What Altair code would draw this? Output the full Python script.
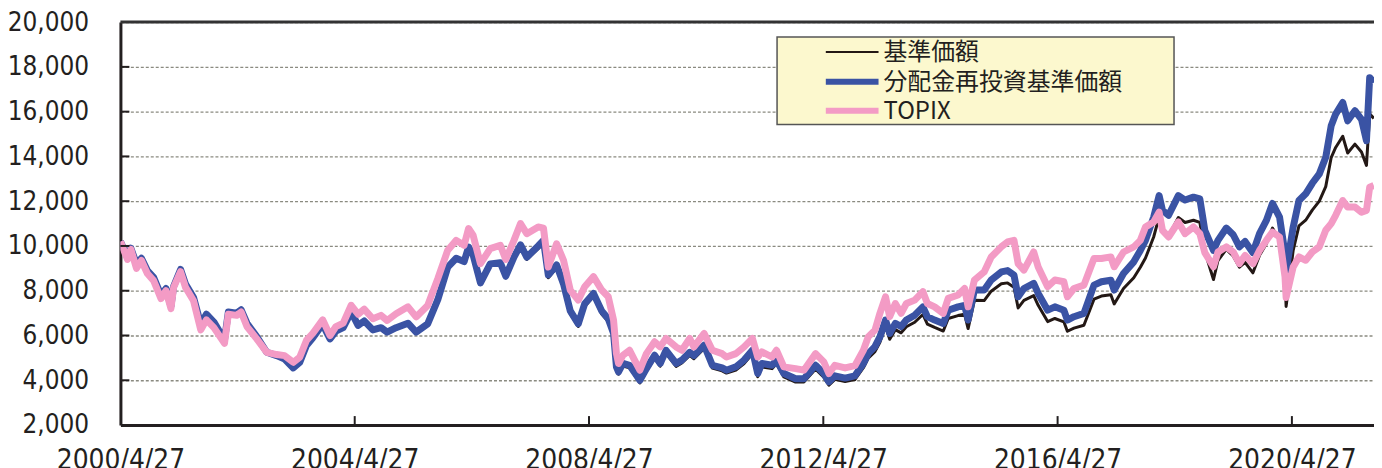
import altair as alt
import pandas as pd

# ---------------- data ----------------
dates = [
    "2000-04-27", "2000-06-10", "2000-07-01", "2000-08-05", "2000-09-05", "2000-10-12", "2000-11-20",
    "2001-01-05", "2001-02-05", "2001-03-08", "2001-03-25", "2001-05-07", "2001-06-07", "2001-07-27", "2001-09-10", "2001-10-15", "2001-12-01",
    "2002-02-05", "2002-03-01", "2002-04-22", "2002-05-20", "2002-06-25", "2002-08-25", "2002-10-27", "2002-12-27",
    "2003-02-15", "2003-04-10", "2003-05-20", "2003-07-01", "2003-08-10", "2003-10-10", "2003-11-25",
    "2004-01-01", "2004-02-15", "2004-04-05", "2004-05-18", "2004-06-25", "2004-08-18", "2004-10-08", "2004-11-15",
    "2005-01-10", "2005-03-25", "2005-05-15", "2005-07-26", "2005-09-27", "2005-11-28",
    "2006-01-20", "2006-03-10", "2006-04-07", "2006-05-05", "2006-06-20", "2006-08-20", "2006-10-22", "2006-11-25",
    "2007-01-15", "2007-02-25", "2007-04-05", "2007-06-15", "2007-07-18", "2007-08-17", "2007-10-08", "2007-11-20",
    "2008-01-01", "2008-02-20", "2008-03-31", "2008-05-25", "2008-07-15", "2008-08-25", "2008-09-27", "2008-10-15", "2008-10-28", "2008-11-25",
    "2009-01-05", "2009-02-05", "2009-03-10", "2009-04-20", "2009-06-10", "2009-07-15", "2009-08-20", "2009-10-22", "2009-11-27",
    "2010-01-15", "2010-02-10", "2010-04-15", "2010-06-05", "2010-08-05", "2010-09-01", "2010-10-30", "2010-12-20",
    "2011-02-10", "2011-03-15", "2011-04-10", "2011-06-12", "2011-07-10", "2011-08-25", "2011-11-06", "2011-12-28",
    "2012-03-10", "2012-04-30", "2012-06-01", "2012-07-08", "2012-09-10", "2012-11-10",
    "2013-01-02", "2013-02-01", "2013-03-15", "2013-04-15", "2013-05-20", "2013-06-15", "2013-07-20", "2013-08-25", "2013-09-27", "2013-11-18",
    "2014-01-08", "2014-02-05", "2014-03-22", "2014-05-15", "2014-06-15", "2014-08-15", "2014-09-25", "2014-10-17", "2014-11-25",
    "2015-01-25", "2015-03-10", "2015-05-12", "2015-06-20", "2015-07-30", "2015-08-25", "2015-09-30", "2015-11-30", "2015-12-28",
    "2016-02-25", "2016-04-10", "2016-06-05", "2016-06-27", "2016-08-07", "2016-10-08", "2016-12-10",
    "2017-01-25", "2017-03-25", "2017-04-15", "2017-06-12", "2017-08-15", "2017-09-25", "2017-10-27", "2017-12-17",
    "2018-01-20", "2018-02-10", "2018-03-20", "2018-05-20", "2018-07-01", "2018-08-22", "2018-10-01", "2018-11-01", "2018-12-25",
    "2019-01-22", "2019-03-15", "2019-04-27", "2019-06-05", "2019-07-10", "2019-08-28", "2019-10-08", "2019-11-20", "2019-12-28",
    "2020-02-10", "2020-03-15", "2020-03-22", "2020-05-05", "2020-06-10", "2020-07-22", "2020-09-01", "2020-10-15", "2020-11-24", "2020-12-28",
    "2021-01-25", "2021-03-10", "2021-04-10", "2021-05-25", "2021-07-05", "2021-08-05", "2021-08-25", "2021-09-20",
]

# 基準価額 (black)
nav = [
    10200, 9500, 9900, 9200, 9450, 8900, 8600,
    7800, 8100, 7300, 8200, 8950, 8300, 7700, 6500, 6950, 6600,
    5800, 7050, 7000, 7150, 6550, 5950, 5250, 5100,
    4950, 4550, 4800, 5550, 5900, 6500, 5850,
    6200, 6350, 7050, 6450, 6650, 6250, 6350, 6150,
    6350, 6550, 6150, 6500, 7580, 9000,
    9400, 9250, 9880, 9530, 8280, 9120, 9170, 8570,
    9400, 9950, 9400, 9880, 10120, 8580, 9020, 8170,
    6970, 6400, 7290, 7740, 6960, 6620, 5980, 4500, 4270, 4640,
    4560, 4240, 3880, 4400, 4990, 4630, 5200, 4620, 4770,
    5110, 4960, 5420, 4540, 4420, 4320, 4460, 4750,
    5180, 4160, 4600, 4520, 4740, 4150, 3920, 3920,
    4500, 4140, 3780, 4040, 3940, 4030,
    4560, 4990, 5280, 5700, 6420, 5830, 6260, 6120, 6390, 6590,
    6940, 6510, 6360, 6200, 6760, 6890, 6950, 6310, 7570,
    7560, 7980, 8310, 8350, 8160, 7230, 7570, 7780, 7350,
    6620, 6760, 6610, 6190, 6330, 6460, 7620,
    7760, 7820, 7410, 8100, 8580, 9050, 9460, 10400,
    11300, 10650, 10450, 11270, 11050, 11150, 11050, 9750, 8500,
    9350, 9850, 9550, 9050, 9270, 8800, 9580, 10100, 10800,
    10250, 8600, 7300, 9800, 10900, 11150, 11600, 12000, 12650, 13950,
    14400, 14900, 14150, 14550, 14200, 13600, 15900, 15700,
]

# 分配金再投資基準価額 (blue)
nav_reinvested = [
    10200, 9500, 9900, 9200, 9450, 8900, 8600,
    7800, 8100, 7300, 8200, 8950, 8300, 7700, 6500, 6950, 6600,
    5800, 7050, 7000, 7150, 6550, 5950, 5250, 5100,
    4950, 4550, 4800, 5550, 5900, 6500, 5850,
    6200, 6350, 7050, 6450, 6650, 6250, 6350, 6150,
    6350, 6550, 6150, 6520, 7600, 9050,
    9450, 9300, 9950, 9600, 8350, 9200, 9250, 8650,
    9500, 10050, 9500, 10000, 10250, 8700, 9150, 8300,
    7100, 6520, 7420, 7880, 7100, 6750, 6100, 4600, 4370, 4750,
    4670, 4350, 4000, 4520, 5120, 4750, 5340, 4750, 4900,
    5250, 5100, 5570, 4670, 4550, 4450, 4600, 4900,
    5340, 4300, 4750, 4670, 4900, 4300, 4070, 4070,
    4670, 4300, 3930, 4200, 4100, 4200,
    4750, 5190, 5500, 5940, 6690, 6090, 6540, 6400, 6690, 6910,
    7280, 6840, 6690, 6540, 7130, 7280, 7350, 6690, 8030,
    8030, 8480, 8840, 8900, 8700, 7730, 8100, 8330, 7880,
    7130, 7280, 7130, 6690, 6840, 6990, 8250,
    8400, 8470, 8030, 8770, 9290, 9800, 10250, 11290,
    12250, 11590, 11370, 12250, 12050, 12180, 12100, 10700, 9800,
    10250, 10800, 10500, 9960, 10200, 9700, 10550, 11140, 11900,
    11290, 9660, 8900, 10840, 12030, 12330, 12800, 13220, 13960, 15370,
    15890, 16410, 15590, 16040, 15660, 14700, 17520, 17300,
]

# TOPIX (pink)
topix = [
    10200, 9400, 9850, 9000, 9350, 8770, 8450,
    7650, 8000, 7200, 8150, 8850, 8150, 7550, 6250, 6700, 6350,
    5650, 6950, 6900, 7050, 6400, 5850, 5250, 5150,
    5100, 4800, 5030, 5780, 6100, 6700, 6000,
    6400, 6550, 7350, 6950, 7180, 6750, 6900, 6670,
    6970, 7280, 6830, 7340, 8540, 9810,
    10250, 10030, 10780, 10480, 9210, 9880, 10030, 9400,
    10250, 11000, 10550, 10850, 10800, 9060, 10100, 9360,
    8030, 7580, 8180, 8630, 8030, 7730, 6690, 5190, 4750, 5120,
    5340, 4900, 4450, 5190, 5720, 5490, 5870, 5490, 5340,
    5870, 5490, 6090, 5340, 5190, 5040, 5190, 5490,
    5870, 5040, 5270, 5040, 5340, 4600, 4520, 4450,
    5190, 4820, 4300, 4670, 4550, 4650,
    5340, 5940, 6240, 6990, 7730, 6840, 7430, 6990, 7430, 7580,
    7960, 7430, 7280, 6990, 7660, 7810, 8100, 7280, 8470,
    8840, 9510, 9960, 10180, 10250, 9210, 8920, 9730, 9060,
    8180, 8480, 8400, 7730, 8100, 8250, 9440,
    9440, 9510, 9070, 9730, 9960, 10250, 10850, 11070,
    11510, 10700, 10400, 11070, 10550, 10850, 10550, 9700, 9070,
    9730, 9960, 9730, 9210, 9580, 9210, 9800, 10250, 10620,
    10400, 8620, 7700, 9060, 9510, 9360, 9730, 9960, 10700, 11000,
    11370, 12030, 11740, 11740, 11510, 11590, 12620, 12700,
]

series_names = ["基準価額", "分配金再投資基準価額", "TOPIX"]
y_ticks = [2000, 4000, 6000, 8000, 10000, 12000, 14000, 16000, 18000, 20000]
x_tick_dates = ["2000-04-27", "2004-04-27", "2008-04-27", "2012-04-27", "2016-04-27", "2020-04-27"]

# ---------------- styling ----------------
series_colors = ["#231815", "#3A53A4", "#F39BC5"]
series_widths = [3, 7, 7]
BG = "#FCF8CE"
INK = "#231F20"
LABEL_FONT = "DejaVu Sans Condensed"
W, H = 1260, 405

df = pd.DataFrame({"date": pd.to_datetime(dates)})
for name, vals in zip(series_names, [nav, nav_reinvested, topix]):
    df[name] = vals
long = df.melt("date", var_name="series", value_name="value")

xscale = alt.Scale(
    domain=[alt.DateTime(year=2000, month=4, date=27), alt.DateTime(year=2021, month=9, date=21)],
    nice=False,
)
yscale = alt.Scale(domain=[2000, 20000], nice=False)

xaxis = alt.Axis(
    values=[alt.DateTime(year=int(d[:4]), month=int(d[5:7]), date=int(d[8:])) for d in x_tick_dates],
    format="%Y/%-m/%-d", labelFont=LABEL_FONT, labelFontSize=28, labelColor=INK,
    ticks=False, grid=False, domainColor=INK, domainWidth=3, labelPadding=22,
    labelFlush=False, labelOverlap=False, title=None,
)
yaxis = alt.Axis(
    values=y_ticks, format=",.0f", labelFont=LABEL_FONT, labelFontSize=26, labelColor=INK,
    ticks=False, domainColor=INK, domainWidth=3, labelPadding=32,
    grid=True, gridColor="#8A8A80", gridDash=[3, 2], gridWidth=1.3, title=None,
)

layers = []
for name, col, w in zip(series_names, series_colors, series_widths):
    layers.append(
        alt.Chart(long).transform_filter(alt.datum.series == name)
        .mark_line(color=col, strokeWidth=w, clip=True, strokeJoin="round")
        .encode(
            x=alt.X("date:T", scale=xscale, axis=xaxis),
            y=alt.Y("value:Q", scale=yscale, axis=yaxis),
        )
    )

# inward ticks
ytick_layer = alt.Chart(pd.DataFrame({"value": y_ticks[1:-1]})).mark_rule(color=INK, strokeWidth=2).encode(
    y=alt.Y("value:Q", scale=yscale, axis=yaxis), x=alt.value(0), x2=alt.value(9)
)
xtick_layer = alt.Chart(pd.DataFrame({"date": pd.to_datetime(x_tick_dates[1:])})).mark_rule(color=INK, strokeWidth=2).encode(
    x=alt.X("date:T", scale=xscale, axis=xaxis), y=alt.value(H - 9), y2=alt.value(H)
)
# top frame line
top_line = alt.Chart(pd.DataFrame({"a": [0]})).mark_rule(color="#333333", strokeWidth=3).encode(
    x=alt.value(0), x2=alt.value(W), y=alt.value(0)
)

# legend box
legend_box = alt.Chart(pd.DataFrame({"a": [0]})).mark_rect(fill=BG, stroke="#555555", strokeWidth=1.5).encode(
    x=alt.value(660), x2=alt.value(1059), y=alt.value(15), y2=alt.value(103)
)
legend_layers = [legend_box]
row_y = [30, 60, 89]
for name, col, w, yy in zip(series_names, series_colors, series_widths, row_y):
    legend_layers.append(
        alt.Chart(pd.DataFrame({"label": [name]})).mark_rule(color=col, strokeWidth=w - 1).encode(
            x=alt.value(709), x2=alt.value(762), y=alt.value(yy)
        )
    )
    legend_layers.append(
        alt.Chart(pd.DataFrame({"label": [name]})).mark_text(
            align="left", baseline="middle", font="Noto Sans CJK JP", fontSize=24, color=INK
        ).encode(text="label:N", x=alt.value(767), y=alt.value(yy + 1))
    )

chart = alt.layer(*layers, ytick_layer, xtick_layer, top_line, *legend_layers).properties(
    width=W, height=H,
    autosize=alt.AutoSizeParams(type="none"),
    padding={"left": 113, "top": 13, "right": 0, "bottom": 42},
).configure_view(fill=BG, strokeWidth=0).configure(background="white")

chart.save("out.html", embed_options={"renderer": "svg", "actions": False})
